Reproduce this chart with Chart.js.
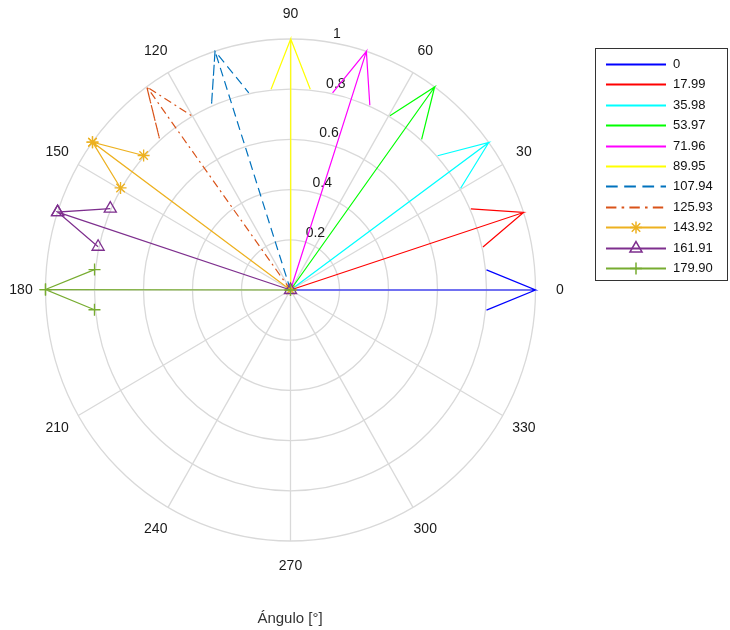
<!DOCTYPE html>
<html>
<head>
<meta charset="utf-8">
<script src="https://cdn.jsdelivr.net/npm/chart.js@4/dist/chart.umd.min.js"></script>
<style>body{margin:0;background:#fff}</style>
</head>
<body>
<canvas id="myChart" width="730" height="630"></canvas>
<script>
var labels = ['0', '17.99', '35.98', '53.97', '71.96', '89.95', '107.94', '125.93', '143.92', '161.91', '179.90'];
var angles = [0, 17.99, 35.98, 53.97, 71.96, 89.95, 107.94, 125.93, 143.92, 161.91, 179.90];
var magnitudes = [1, 1, 1, 1, 1, 1, 1, 1, 1, 1, 1];
var radialTicks = [0.2, 0.4, 0.6, 0.8, 1];
var angleTicks = [0, 30, 60, 90, 120, 150, 180, 210, 240, 270, 300, 330];
var colors = ['#0000ff', '#ff0000', '#00ffff', '#00ff00', '#ff00ff', '#ffff00', '#0072bd', '#d95319', '#edb120', '#7e2f8e', '#77ac30'];
var dashes = [[], [], [], [], [], [], [9, 5], [8, 4, 2, 4], [], [], []];
var markers = [false, false, false, false, false, false, false, false, 'star', 'triangle', 'cross'];
var markerSizes = [0, 0, 0, 0, 0, 0, 0, 0, 6, 7, 6];

var FONT = "'Liberation Sans', Arial, sans-serif";

// compass arrow: shaft + two head strokes, rotated to the angle
function arrow(deg, mag) {
  var a = deg * Math.PI / 180;
  var c = Math.cos(a) * mag, s = Math.sin(a) * mag;
  var xx = [0, 1, 0.8, 1, 0.8];
  var yy = [0, 0, 0.08, 0, -0.08];
  return xx.map(function (x, i) {
    return { x: x * c - yy[i] * s, y: x * s + yy[i] * c };
  });
}

var datasets = labels.map(function (lab, i) {
  return {
    label: lab,
    data: arrow(angles[i], magnitudes[i]),
    showLine: true,
    borderColor: colors[i],
    backgroundColor: colors[i],
    borderWidth: 1.2,
    borderDash: dashes[i],
    pointStyle: markers[i] || 'circle',
    pointRadius: markers[i] ? markerSizes[i] : 0,
    pointBorderColor: colors[i],
    pointBackgroundColor: 'rgba(0,0,0,0)',
    pointBorderWidth: 1.3,
    pointHoverRadius: 0,
    clip: false,
    order: labels.length - i
  };
});

var polarGrid = {
  id: 'polarGrid',
  beforeDatasetsDraw: function (chart) {
    var ctx = chart.ctx, xs = chart.scales.x, ys = chart.scales.y;
    var cx = xs.getPixelForValue(0), cy = ys.getPixelForValue(0);
    ctx.save();
    ctx.strokeStyle = '#d9d9d9';
    ctx.lineWidth = 1.3;
    radialTicks.forEach(function (r) {
      var rx = xs.getPixelForValue(r) - cx;
      var ry = cy - ys.getPixelForValue(r);
      ctx.beginPath();
      ctx.ellipse(cx, cy, rx, ry, 0, 0, Math.PI * 2);
      ctx.stroke();
    });
    var rmax = radialTicks[radialTicks.length - 1];
    for (var k = 0; k < 6; k++) {
      var a = angleTicks[k] * Math.PI / 180;
      ctx.beginPath();
      ctx.moveTo(xs.getPixelForValue(-rmax * Math.cos(a)), ys.getPixelForValue(-rmax * Math.sin(a)));
      ctx.lineTo(xs.getPixelForValue(rmax * Math.cos(a)), ys.getPixelForValue(rmax * Math.sin(a)));
      ctx.stroke();
    }
    ctx.fillStyle = '#1a1a1a';
    ctx.font = '14px ' + FONT;
    ctx.textAlign = 'center';
    ctx.textBaseline = 'middle';
    angleTicks.forEach(function (t) {
      var a = t * Math.PI / 180;
      ctx.fillText(String(t), xs.getPixelForValue(1.1 * rmax * Math.cos(a)), ys.getPixelForValue(1.1 * rmax * Math.sin(a)));
    });
    var c82 = Math.cos(82 * Math.PI / 180), s82 = Math.sin(82 * Math.PI / 180);
    ctx.textAlign = 'left';
    ctx.textBaseline = 'bottom';
    radialTicks.forEach(function (r) {
      var rr = r + 0.01;
      ctx.fillText(String(r), xs.getPixelForValue(rr * c82) + 8, ys.getPixelForValue(rr * s82) + 2);
    });
    ctx.fillStyle = '#333';
    ctx.font = '15px ' + FONT;
    ctx.textAlign = 'center';
    ctx.textBaseline = 'middle';
    ctx.fillText('Ángulo [°]', 290, 619);
    ctx.restore();
  }
};

var boxLegend = {
  id: 'boxLegend',
  afterDraw: function (chart) {
    var ctx = chart.ctx;
    ctx.save();
    ctx.fillStyle = '#fff';
    ctx.fillRect(595.5, 48.5, 132, 232);
    ctx.strokeStyle = '#333';
    ctx.lineWidth = 1;
    ctx.strokeRect(595.5, 48.5, 132, 232);
    ctx.font = '13px ' + FONT;
    ctx.textAlign = 'left';
    ctx.textBaseline = 'middle';
    labels.forEach(function (lab, i) {
      var y = Math.round(64 + i * 20.4) + 0.5;
      ctx.strokeStyle = colors[i];
      ctx.lineWidth = 2;
      ctx.setLineDash(dashes[i].length ? dashes[i].map(function (d) { return d * 1.3; }) : []);
      ctx.beginPath();
      ctx.moveTo(606, y);
      ctx.lineTo(666, y);
      ctx.stroke();
      ctx.setLineDash([]);
      if (markers[i] && Chart.helpers && Chart.helpers.drawPoint) {
        ctx.lineWidth = 1.5;
        ctx.fillStyle = 'rgba(0,0,0,0)';
        Chart.helpers.drawPoint(ctx, { pointStyle: markers[i], radius: markerSizes[i], rotation: 0, borderWidth: 1.5 }, 636, y);
      }
      ctx.fillStyle = '#111';
      ctx.fillText(lab, 673, y);
    });
    ctx.restore();
  }
};

new Chart(document.getElementById('myChart'), {
  type: 'scatter',
  data: { datasets: datasets },
  options: {
    responsive: false,
    animation: false,
    events: [],
    layout: { padding: { left: 45.5, right: 194.5, top: 39, bottom: 89 } },
    scales: {
      x: { type: 'linear', min: -1, max: 1, display: false },
      y: { type: 'linear', min: -1, max: 1, display: false }
    },
    plugins: {
      legend: { display: false },
      tooltip: { enabled: false }
    }
  },
  plugins: [polarGrid, boxLegend]
});
</script>
</body>
</html>
